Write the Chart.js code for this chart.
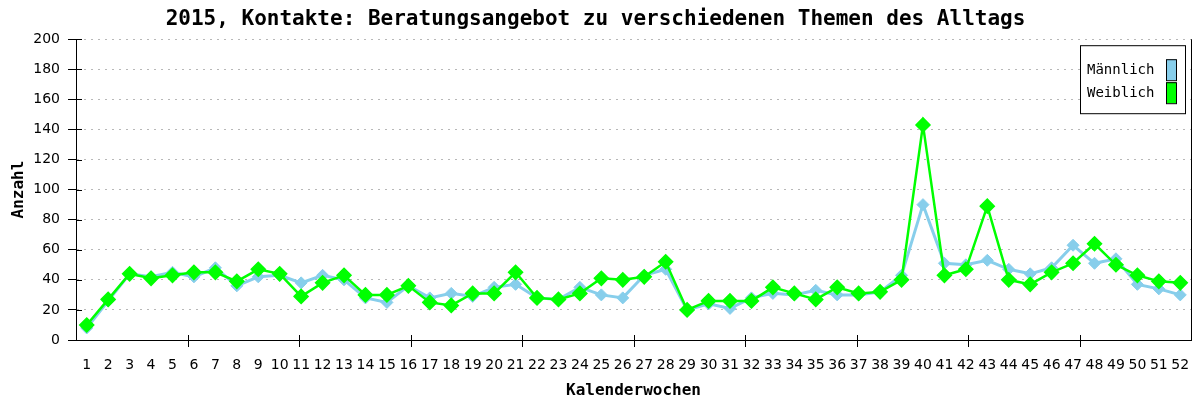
<!DOCTYPE html>
<html lang="de">
<head>
<meta charset="utf-8">
<title>2015, Kontakte</title>
<script src="https://cdn.jsdelivr.net/npm/chart.js@4/dist/chart.umd.min.js"></script>
<style>
  html, body { margin: 0; padding: 0; background: #fff; }
  #wrap { width: 1195px; height: 400px; position: relative; }
</style>
</head>
<body>
<div id="wrap"><canvas id="kontakteChart"></canvas></div>
<script>
// Kalenderwochen 1..52
const weeks = Array.from({ length: 52 }, (_, i) => String(i + 1));

// Anzahl Kontakte pro Woche
const maennlich = [8, 26, 44, 42, 45, 42, 48, 36, 42, 43, 38, 43, 40, 28, 25, 36, 28, 31, 29, 35,
  37, 28, 27, 35, 30, 28, 43, 47, 20, 24, 21, 28, 31, 30, 33, 30, 30, 32, 43, 90,
  51, 50, 53, 47, 44, 48, 63, 51, 54, 37, 34, 30];
const weiblich = [10, 27, 44, 41, 43, 45, 45, 39, 47, 44, 29, 38, 43, 30, 30, 36, 25, 23, 31, 31,
  45, 28, 27, 31, 41, 40, 42, 52, 20, 26, 26, 26, 35, 31, 27, 35, 31, 32, 40, 143,
  43, 47, 89, 40, 37, 45, 51, 64, 50, 43, 39, 38];

const yTicks = [0, 20, 40, 60, 80, 100, 120, 140, 160, 180, 200];
const legendLabels = ['Männlich', 'Weiblich'];
const seriesColors = ['#87ceeb', '#00ff00'];

const MONO = '"DejaVu Sans Mono", monospace';
const SANS = '"DejaVu Sans", Verdana, sans-serif';

/**
 * Rahmen rechts, kleine Striche an der x-Achse und Legende im Kasten
 */
const frameAndLegend = {
  id: 'frameAndLegend',
  afterDraw(chart) {
    const { ctx, chartArea: area } = chart;
    ctx.save();
    ctx.strokeStyle = '#000';
    ctx.lineWidth = 1;

    // rechte Begrenzung
    ctx.beginPath();
    ctx.moveTo(Math.round(area.right) + 0.5, area.top);
    ctx.lineTo(Math.round(area.right) + 0.5, area.bottom);
    ctx.stroke();

    // x-Achse: Striche in zehn gleichen Abständen
    const w = area.right - area.left;
    for (let i = 1; i < 10; i++) {
      const x = Math.round(area.left + w * i / 10) + 0.5;
      ctx.beginPath();
      ctx.moveTo(x, area.bottom - 5);
      ctx.lineTo(x, area.bottom + 7);
      ctx.stroke();
    }

    // y-Achse: Striche ragen leicht ins Diagramm
    const yScale = chart.scales.y;
    yTicks.forEach(v => {
      const y = Math.round(yScale.getPixelForValue(v)) + 0.5;
      ctx.beginPath();
      ctx.moveTo(area.left, y);
      ctx.lineTo(area.left + 6, y);
      ctx.stroke();
    });

    // Legende
    const boxRight = area.right - 6;
    const boxLeft = boxRight - 105;
    const boxTop = area.top + 6;
    ctx.fillStyle = '#fff';
    ctx.fillRect(boxLeft, boxTop, 105, 68);
    ctx.strokeRect(boxLeft + 0.5, boxTop + 0.5, 105, 68);

    ctx.font = '14px ' + MONO;
    ctx.textBaseline = 'middle';
    ctx.textAlign = 'left';
    legendLabels.forEach((label, i) => {
      const cy = boxTop + 25 + i * 23;
      ctx.fillStyle = '#000';
      ctx.fillText(label, boxLeft + 7, cy);
      ctx.fillStyle = seriesColors[i];
      ctx.fillRect(boxLeft + 86, cy - 11, 10, 21);
      ctx.strokeRect(boxLeft + 86.5, cy - 10.5, 10, 21);
    });
    ctx.restore();
  }
};

function buildChart() {
  const ctx = document.getElementById('kontakteChart').getContext('2d');
  return new Chart(ctx, {
    type: 'line',
    data: {
      labels: weeks,
      datasets: [
        {
          label: legendLabels[0],
          data: maennlich,
          borderColor: seriesColors[0],
          backgroundColor: seriesColors[0],
          borderWidth: 3,
          pointStyle: 'rectRot',
          pointRadius: 6,
          pointBorderWidth: 1,
          tension: 0,
          order: 1
        },
        {
          label: legendLabels[1],
          data: weiblich,
          borderColor: seriesColors[1],
          backgroundColor: seriesColors[1],
          borderWidth: 2.5,
          pointStyle: 'rectRot',
          pointRadius: 7,
          pointBorderWidth: 1.5,
          tension: 0,
          order: 0
        }
      ]
    },
    options: {
      responsive: true,
      maintainAspectRatio: false,
      animation: false,
      layout: { autoPadding: false, padding: { left: 0, right: 4, top: 0, bottom: 0 } },
      plugins: {
        legend: { display: false },
        tooltip: { enabled: false },
        title: {
          display: true,
          text: '2015, Kontakte: Beratungsangebot zu verschiedenen Themen des Alltags',
          color: '#000',
          font: { family: MONO, size: 21, weight: 'bold', lineHeight: 1.2 },
          padding: { top: 7, bottom: 7 }
        }
      },
      scales: {
        x: {
          type: 'category',
          offset: true,
          grid: { display: false },
          border: { display: true, color: '#000', width: 1 },
          ticks: {
            color: '#000',
            font: { family: SANS, size: 14 },
            padding: 9,
            maxRotation: 0,
            autoSkip: false
          },
          title: {
            display: true,
            text: 'Kalenderwochen',
            color: '#000',
            font: { family: MONO, size: 16, weight: 'bold', lineHeight: 1.2 },
            padding: { top: 0, bottom: 0 }
          },
          afterFit: (scale) => {
            scale.height = 60;
            scale.paddingLeft = 0;
            scale.paddingRight = 0;
          }
        },
        y: {
          min: 0,
          max: 200,
          afterBuildTicks: (scale) => { scale.ticks = yTicks.map(v => ({ value: v })); },
          grid: {
            color: '#b8b8b8',
            tickColor: '#000',
            tickLength: 8,
            tickBorderDash: [],
            lineWidth: 1
          },
          border: { display: true, color: '#000', width: 1, dash: [2, 5] },
          ticks: {
            color: '#000',
            font: { family: SANS, size: 14 },
            padding: 8
          },
          title: {
            display: true,
            text: 'Anzahl',
            color: '#000',
            font: { family: MONO, size: 16, weight: 'bold', lineHeight: 1.2 },
            padding: { top: 9, bottom: 0 }
          },
          afterFit: (scale) => { scale.width = 76; }
        }
      }
    },
    plugins: [frameAndLegend]
  });
}

buildChart();
</script>
</body>
</html>
